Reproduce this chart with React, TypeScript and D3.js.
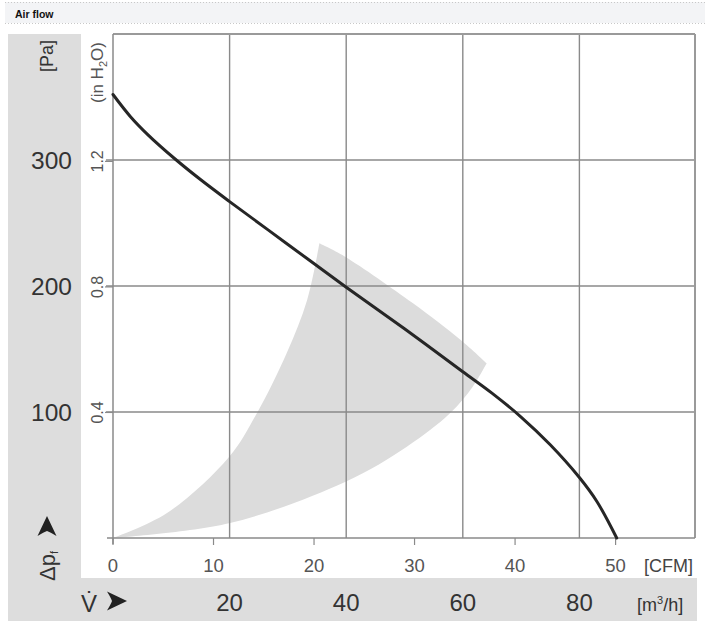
import React from 'react';
import * as d3 from 'd3';

const W = 705;
const H = 629;
const title = 'Air flow';

const paTicks = [100, 200, 300];
const inH2OTicks = [0.4, 0.8, 1.2];
const cfmTicks = [0, 10, 20, 30, 40, 50];
const m3hTicks = [20, 40, 60, 80];
const PA_PER_INH2O = 249.09;

// fan characteristic curve (flow m³/h, static pressure Pa)
const curveFlow = [0, 3, 6, 10.6, 15, 20, 30, 40, 50, 60, 65, 70, 75, 80, 83, 86.4];
const curvePressure = [352, 334.4, 320, 301, 284.5, 267, 233, 199, 166, 132, 115, 96, 74, 48, 29, 0];

// recommended operating zone (grey area), three edges
const zoneLowerFlow = [0, 19.9, 39.9, 50.4, 57.8, 61.7, 64.1];
const zoneLowerPressure = [0, 11.7, 44.7, 72.5, 99, 120.1, 138.7];
const zoneUpperFlow = [64.1, 59.7, 51.4, 39.8, 35.4];
const zoneUpperPressure = [138.7, 157, 186.5, 223.3, 233.9];
const zoneLeftFlow = [35.4, 33.3, 29.8, 24.7, 19.9, 9.2, 0];
const zoneLeftPressure = [233.9, 188.9, 146.8, 99.2, 64.3, 19.6, 0];

const FONT = "'Liberation Sans', Arial, Helvetica, sans-serif";

export default function App() {
  const x = d3.scaleLinear().domain([0, 100]).range([113, 696]);
  const xc = d3.scaleLinear().domain([0, 58]).range([113, 696]);
  const y = d3.scaleLinear().domain([0, 400]).range([538, 34]);
  const yIn = d3.scaleLinear().domain([0, 400 / PA_PER_INH2O]).range([538, 34]);

  const x0 = x(0);
  const x1 = 695;
  const y0 = y(0);
  const y1 = y(400);

  const pts = (fx: number[], fy: number[]) => fx.map((v, i) => [x(v), y(fy[i])] as [number, number]);

  const curveLine = d3.line().curve(d3.curveCatmullRom.alpha(0.5));
  const curvePath = curveLine(pts(curveFlow, curvePressure)) || '';

  const seg = d3.line().curve(d3.curveCatmullRom.alpha(0.5));
  const p1 = seg(pts(zoneLowerFlow, zoneLowerPressure)) || '';
  const p2 = (seg(pts(zoneUpperFlow, zoneUpperPressure)) || '').replace(/^M/, 'L');
  const p3 = (seg(pts(zoneLeftFlow, zoneLeftPressure)) || '').replace(/^M/, 'L');
  const zonePath = p1 + p2 + p3 + 'Z';

  const arrow = (cx: number, cy: number, rot: number) => (
    <path
      transform={`translate(${cx},${cy}) rotate(${rot})`}
      d="M10,0 L-10,-9.5 Q-6,-3 -5,0 Q-6,3 -10,9.5 Z"
      fill="#222"
    />
  );

  return (
    <svg width={W} height={H} style={{ position: 'absolute', left: 0, top: 0 }} fontFamily={FONT}>
      <rect x={0} y={0} width={W} height={H} fill="#fff" />
      {/* header */}
      <rect x={5} y={2} width={700} height={21} fill="#f3f4f6" />
      <line x1={5} x2={705} y1={2.5} y2={2.5} stroke="#c8c8c8" strokeDasharray="1,2" />
      <line x1={5} x2={705} y1={23.5} y2={23.5} stroke="#c8c8c8" strokeDasharray="1,2" />
      <text x={15} y={17.5} fontSize={10.5} fontWeight="bold" fill="#111" fontFamily="Arial, 'Liberation Sans', sans-serif">{title}</text>

      {/* grey label panels */}
      <rect x={8} y={34} width={73} height={587} fill="#dddddd" />
      <rect x={81} y={578} width={616} height={43} fill="#dddddd" />

      {/* operating zone */}
      <path d={zonePath} fill="#dcdcdc" />

      {/* grid */}
      {paTicks.map((t) => (
        <line key={'h' + t} x1={106} x2={x1} y1={y(t)} y2={y(t)} stroke="#8a8a8a" strokeWidth={1.4} />
      ))}
      {m3hTicks.map((t) => (
        <line key={'v' + t} x1={x(t)} x2={x(t)} y1={y1} y2={y0} stroke="#8a8a8a" strokeWidth={1.4} />
      ))}
      {inH2OTicks.map((t) => (
        <line key={'ti' + t} x1={105} x2={x0} y1={yIn(t)} y2={yIn(t)} stroke="#8a8a8a" strokeWidth={1.2} />
      ))}
      {cfmTicks.map((t) => (
        <line key={'tc' + t} x1={xc(t)} x2={xc(t)} y1={y0} y2={y0 + 7} stroke="#8a8a8a" strokeWidth={1.2} />
      ))}

      {/* frame */}
      <line x1={x0} x2={x1} y1={y1} y2={y1} stroke="#9a9a9a" strokeWidth={2} />
      <line x1={x1} x2={x1} y1={y1} y2={y0} stroke="#9a9a9a" strokeWidth={2} />
      <line x1={x0} x2={x0} y1={y1} y2={y0 + 6} stroke="#8a8a8a" strokeWidth={1.5} />
      <line x1={107} x2={x1} y1={y0} y2={y0} stroke="#8a8a8a" strokeWidth={1.5} />

      {/* curve */}
      <path d={curvePath} fill="none" stroke="#262626" strokeWidth={3} strokeLinecap="round" />

      {/* Pa labels */}
      {paTicks.map((t) => (
        <text key={'pl' + t} x={72} y={y(t) + 9} textAnchor="end" fontSize={24.5} fill="#333">{t}</text>
      ))}
      <text transform={`translate(53,72) rotate(-90)`} fontSize={18} fill="#333">[Pa]</text>

      {/* inH2O labels */}
      {inH2OTicks.map((t) => (
        <text key={'il' + t} transform={`translate(103,${yIn(t)}) rotate(-90)`} textAnchor="middle" fontSize={16} fill="#555">
          {t.toFixed(1)}
        </text>
      ))}
      <text transform={`translate(103,103) rotate(-90)`} fontSize={17} fill="#555">
        (in H<tspan fontSize={11} dy={4}>2</tspan><tspan dy={-4}>O)</tspan>
      </text>

      {/* Δpf */}
      <text transform={`translate(55,581) rotate(-90)`} fontSize={22} fill="#333">
        Δp<tspan fontSize={11} dy={3}>f</tspan>
      </text>
      {arrow(47, 526, -90)}

      {/* CFM labels */}
      {cfmTicks.map((t) => (
        <text key={'cl' + t} x={xc(t)} y={572} textAnchor="middle" fontSize={18.5} fill="#555">{t}</text>
      ))}
      <text x={644} y={572} fontSize={18} fill="#444">[CFM]</text>

      {/* m3/h labels */}
      {m3hTicks.map((t) => (
        <text key={'ml' + t} x={x(t)} y={611} textAnchor="middle" fontSize={24} fill="#333">{t}</text>
      ))}
      <text x={637} y={611} fontSize={18} fill="#333">
        [m<tspan fontSize={11} dy={-7}>3</tspan><tspan dy={7}>/h]</tspan>
      </text>
      <text x={81} y={612} fontSize={24} fill="#333">V̇</text>
      {arrow(117, 601, 0)}
    </svg>
  );
}
